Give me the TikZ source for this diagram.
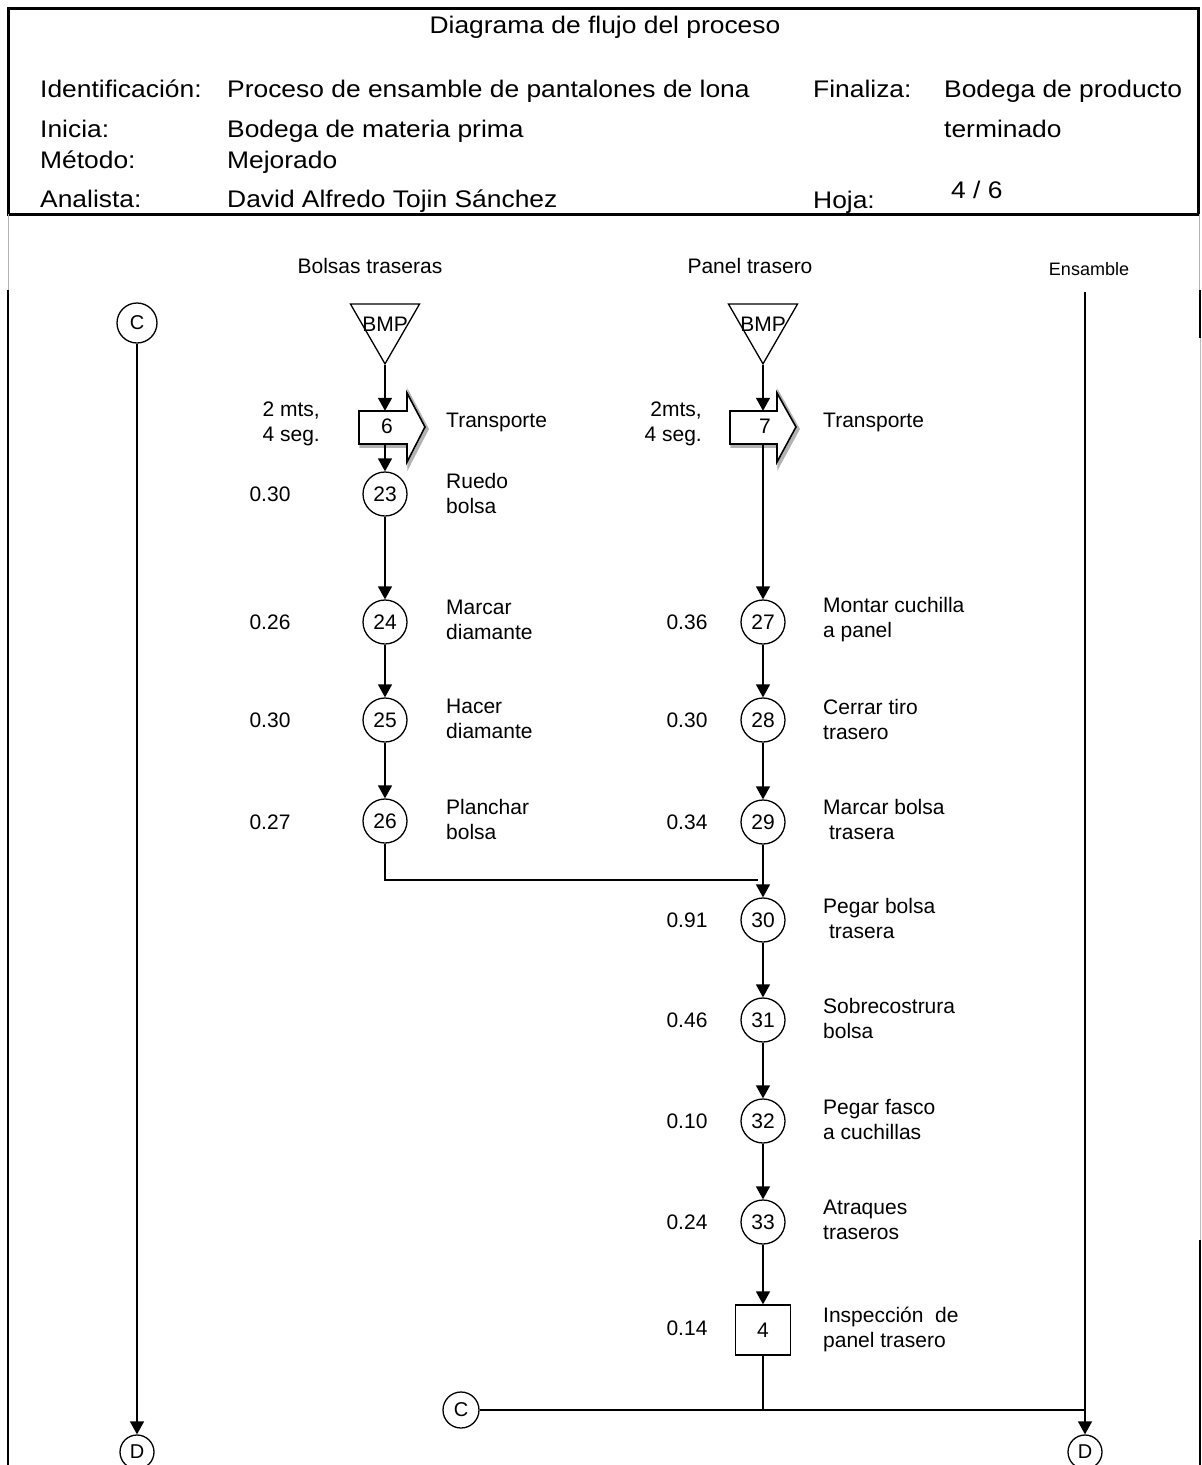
\documentclass[tikz,border=0pt]{standalone}
\usepackage{fontspec}
\setmainfont{Liberation Sans}
\newfontfamily\hdrfont[FakeStretch=1.1]{Liberation Sans}
\usetikzlibrary{shapes.geometric,arrows.meta}
\begin{document}
\begin{tikzpicture}[x=1pt,y=-1pt,
  hdr/.style={font=\hdrfont\fontsize{24}{28}\selectfont, inner sep=0pt},
  txt/.style={font=\fontsize{21}{25}\selectfont, inner sep=0pt, align=left},
  txtr/.style={font=\fontsize{21}{25}\selectfont, inner sep=0pt, align=right},
  small/.style={font=\fontsize{18}{22}\selectfont, inner sep=0pt},
  op/.style={circle, draw, line width=1.3pt, minimum size=44pt, inner sep=0pt, font=\fontsize{21}{24}\selectfont},
  conn/.style={circle, draw, line width=1.3pt, minimum size=36pt, inner sep=0pt, font=\fontsize{20}{22}\selectfont},
  insp/.style={rectangle, draw, line width=1.3pt, minimum width=55pt, minimum height=50pt, inner sep=0pt, font=\fontsize{21}{24}\selectfont},
  store/.style={regular polygon, regular polygon sides=3, shape border rotate=180, draw, line width=1.3pt, minimum size=79.7pt, inner sep=0pt, font=\fontsize{21}{24}\selectfont},
  tnum/.style={minimum height=33pt, inner sep=0pt, font=\fontsize{21}{24}\selectfont},
  tshadow/.style={draw=gray!60, line width=3.5pt, line join=miter},
  tline/.style={draw, line width=1.6pt, line join=miter},
  arr/.style={line width=1.5pt, -{Triangle[length=13pt,width=14pt]}},
  ln/.style={line width=1.5pt},
  frame/.style={line width=2.6pt}
]
\clip (0,0) rectangle (1202,1465);

% ---------- frame ----------
\draw[frame, line width=3pt] (8,8) rectangle (1198,214);
\draw[gray!60, line width=1pt] (8,214) -- (8,290);
\draw[frame] (8,290) -- (8,1465);
\draw[gray!60, line width=1pt] (1199,214) -- (1199,290);
\draw[frame] (1200,290) -- (1200,338);
\draw[gray!55, line width=1pt] (1200,338) -- (1200,1240);
\draw[frame] (1200,1240) -- (1200,1465);

% ---------- header ----------
\node[hdr, anchor=base] (title) at (605,33) {Diagrama de flujo del proceso};
\node[hdr, anchor=base west] (hIdL) at (40,97) {Identificación:};
\node[hdr, anchor=base west] (hIdV) at (227,97) {Proceso de ensamble de pantalones de lona};
\node[hdr, anchor=base west] (hFinL) at (813,97) {Finaliza:};
\node[hdr, anchor=base west] (hFinV) at (944,97) {Bodega de producto};
\node[hdr, anchor=base west] (hIniL) at (40,137) {Inicia:};
\node[hdr, anchor=base west] (hIniV) at (227,137) {Bodega de materia prima};
\node[hdr, anchor=base west] (hFinV2) at (944,137) {terminado};
\node[hdr, anchor=base west] (hMetL) at (40,168) {Método:};
\node[hdr, anchor=base west] (hMetV) at (227,168) {Mejorado};
\node[hdr, anchor=base west] (hAnL) at (40,207) {Analista:};
\node[hdr, anchor=base west] (hAnV) at (227,207) {David Alfredo Tojin Sánchez};
\node[hdr, anchor=base west] (hHoL) at (813,208) {Hoja:};
\node[hdr, anchor=base west] (hHoV) at (951,198) {4 / 6};

% ---------- column titles ----------
\node[txt] (ttl1) at (370,266) {Bolsas traseras};
\node[txt] (ttl2) at (750,266) {Panel trasero};
\node[small] (ttl3) at (1089,269) {Ensamble};

% ---------- left connector C -> D ----------
\node[conn, minimum size=40pt] (cL) at (137,323) {C};
\node[conn, minimum size=34pt] (dL) at (137,1452) {D};
\draw[arr] (cL) -- (dL);

% ---------- column 1: Bolsas traseras ----------
\node[store] (bmp1) at (385,324) {\makebox[0pt]{BMP}};
\draw[tshadow, shift={(2,2)}] (359,411) -- (407,411) -- (407,393) -- (425,427) -- (407,462) -- (407,444) -- (359,444) -- cycle;
\draw[tline, fill=white] (359,411) -- (407,411) -- (407,393) -- (425,427) -- (407,462) -- (407,444) -- (359,444) -- cycle;
\node[tnum] (t6) at (387,427.5) {\raisebox{3pt}{6}};
\node[txtr, anchor=east] (d6) at (320,423.5) {2 mts,\\4 seg.};
\node[txt, anchor=west] (l6) at (446,422) {Transporte};

\node[op] (c23) at (385,494) {23};
\node[op] (c24) at (385,622) {24};
\node[op] (c25) at (385,720) {25};
\node[op] (c26) at (385,821) {26};

\node[txt] (v23) at (270,494) {0.30};
\node[txt] (v24) at (270,622) {0.26};
\node[txt] (v25) at (270,720) {0.30};
\node[txt] (v26) at (270,822) {0.27};

\node[txt, anchor=west] (l23) at (446,493) {Ruedo\\bolsa};
\node[txt, anchor=west] (l24) at (446,620) {Marcar\\diamante};
\node[txt, anchor=west] (l25) at (446,719) {Hacer\\diamante};
\node[txt, anchor=west] (l26) at (446,819) {Planchar\\bolsa};

\draw[arr] (bmp1.south) -- (bmp1.south |- t6.north);
\draw[arr] (c23 |- t6.south) -- (c23.north);
\draw[arr] (c23) -- (c24);
\draw[arr] (c24) -- (c25);
\draw[arr] (c25) -- (c26);
\coordinate (j1) at (758,880);
\draw[ln] (c26.south) |- (j1);

% ---------- column 2: Panel trasero ----------
\node[store] (bmp2) at (763,324) {\makebox[0pt]{BMP}};
\draw[tshadow, shift={(2,2)}] (730,411) -- (777,411) -- (777,393) -- (796,427) -- (777,462) -- (777,444) -- (730,444) -- cycle;
\draw[tline, fill=white] (730,411) -- (777,411) -- (777,393) -- (796,427) -- (777,462) -- (777,444) -- (730,444) -- cycle;
\node[tnum] (t7) at (765,427.5) {\raisebox{3pt}{7}};
\node[txtr, anchor=east] (d7) at (702,423.5) {2mts,\\4 seg.};
\node[txt, anchor=west] (l7) at (823,422) {Transporte};

\node[op] (c27) at (763,622) {27};
\node[op] (c28) at (763,720) {28};
\node[op] (c29) at (763,822) {29};
\node[op] (c30) at (763,920) {30};
\node[op] (c31) at (763,1020) {31};
\node[op] (c32) at (763,1121) {32};
\node[op] (c33) at (763,1222) {33};
\node[insp] (r4) at (763,1330) {4};

\node[txt] (v27) at (687,622) {0.36};
\node[txt] (v28) at (687,720) {0.30};
\node[txt] (v29) at (687,822) {0.34};
\node[txt] (v30) at (687,920) {0.91};
\node[txt] (v31) at (687,1020) {0.46};
\node[txt] (v32) at (687,1121) {0.10};
\node[txt] (v33) at (687,1222) {0.24};
\node[txt] (v4) at (687,1328) {0.14};

\node[txt, anchor=west] (l27) at (823,620) {Montar cuchilla\\a panel};
\node[txt, anchor=west] (l28) at (823,719) {Cerrar tiro\\trasero};
\node[txt, anchor=west] (l29) at (823,819) {Marcar bolsa\\\hspace*{0.28em}trasera};
\node[txt, anchor=west] (l30) at (823,918) {Pegar bolsa\\\hspace*{0.28em}trasera};
\node[txt, anchor=west] (l31) at (823,1018) {Sobrecostrura\\bolsa};
\node[txt, anchor=west] (l32) at (823,1119) {Pegar fasco\\a cuchillas};
\node[txt, anchor=west] (l33) at (823,1220) {Atraques\\traseros};
\node[txt, anchor=west] (l4) at (823,1329) {Inspección\ \ de\\panel trasero};

\draw[arr] (bmp2.south) -- (bmp2.south |- t7.north);
\draw[arr] (c27 |- t7.south) -- (c27.north);
\draw[arr] (c27) -- (c28);
\draw[arr] (c28) -- (c29);
\draw[arr] (c29) -- (c30);
\draw[arr] (c30) -- (c31);
\draw[arr] (c31) -- (c32);
\draw[arr] (c32) -- (c33);
\draw[arr] (c33) -- (r4);

% ---------- Ensamble line and bottom connectors ----------
\coordinate (eTop) at (1085,292);
\node[conn, minimum size=34pt] (dR) at (1085,1452) {D};
\node[conn, minimum size=36pt] (cB) at (461,1410) {C};
\draw[arr] (eTop) -- (dR.north);
\draw[ln] (cB.east) -- (cB.east -| eTop);
\draw[ln] (r4.south) -- (r4.south |- cB.east);
\end{tikzpicture}
\end{document}
